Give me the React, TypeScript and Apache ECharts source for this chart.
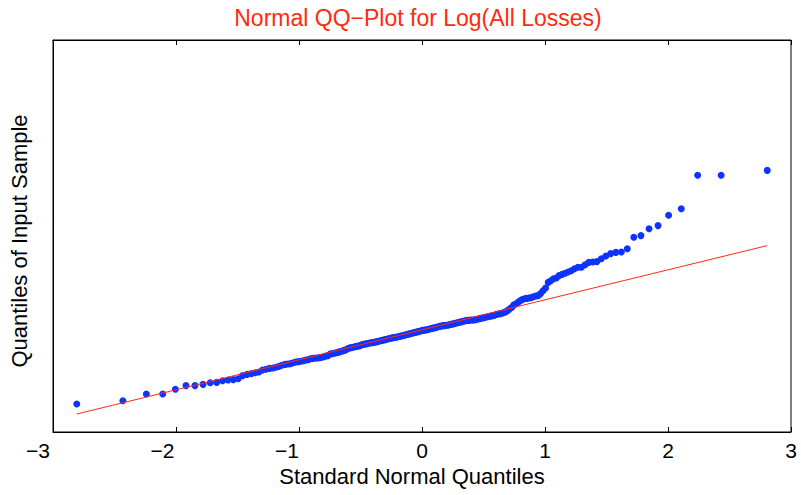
import React, { useEffect, useRef } from "react";
import * as echarts from "echarts";

// Standard normal quantiles (x) for the 200 sorted observations
const normalQuantiles: number[] = [
  -2.807, -2.432, -2.241, -2.108, -2.005, -1.919, -1.846, -1.780, -1.722, -1.669,
  -1.621, -1.576, -1.534, -1.495, -1.458, -1.422, -1.388, -1.356, -1.326, -1.296,
  -1.268, -1.240, -1.213, -1.188, -1.163, -1.139, -1.114, -1.092, -1.069, -1.047,
  -1.026, -1.005, -0.984, -0.964, -0.944, -0.925, -0.906, -0.887, -0.868, -0.850,
  -0.833, -0.815, -0.798, -0.780, -0.764, -0.747, -0.731, -0.714, -0.698, -0.683,
  -0.667, -0.651, -0.636, -0.620, -0.605, -0.590, -0.576, -0.561, -0.546, -0.532,
  -0.517, -0.503, -0.489, -0.475, -0.461, -0.447, -0.433, -0.419, -0.406, -0.392,
  -0.379, -0.365, -0.352, -0.338, -0.325, -0.312, -0.299, -0.286, -0.273, -0.260,
  -0.247, -0.234, -0.221, -0.208, -0.195, -0.182, -0.170, -0.157, -0.144, -0.132,
  -0.119, -0.107, -0.094, -0.082, -0.069, -0.056, -0.044, -0.031, -0.019, -0.006,
  0.006, 0.019, 0.031, 0.044, 0.056, 0.069, 0.082, 0.094, 0.107, 0.119,
  0.132, 0.144, 0.157, 0.170, 0.182, 0.195, 0.208, 0.221, 0.234, 0.247,
  0.260, 0.273, 0.286, 0.299, 0.312, 0.325, 0.338, 0.352, 0.365, 0.379,
  0.392, 0.406, 0.419, 0.433, 0.447, 0.461, 0.475, 0.489, 0.503, 0.517,
  0.532, 0.546, 0.561, 0.576, 0.590, 0.605, 0.620, 0.636, 0.651, 0.667,
  0.683, 0.698, 0.714, 0.731, 0.747, 0.764, 0.780, 0.798, 0.815, 0.833,
  0.850, 0.868, 0.887, 0.906, 0.925, 0.944, 0.964, 0.984, 1.005, 1.026,
  1.047, 1.069, 1.092, 1.114, 1.139, 1.163, 1.188, 1.213, 1.240, 1.268,
  1.296, 1.326, 1.356, 1.388, 1.422, 1.458, 1.495, 1.534, 1.576, 1.621,
  1.669, 1.722, 1.780, 1.846, 1.919, 2.005, 2.108, 2.241, 2.432, 2.807,
];

// Sorted sample values, log(loss) (arbitrary offset; the axis is unlabelled)
const sampleQuantiles: number[] = [
  0.70, 0.78, 0.95, 0.95, 1.07, 1.16, 1.16, 1.19, 1.23, 1.24,
  1.28, 1.30, 1.31, 1.33, 1.41, 1.44, 1.46, 1.48, 1.50, 1.55,
  1.57, 1.59, 1.60, 1.62, 1.64, 1.67, 1.69, 1.70, 1.71, 1.73,
  1.75, 1.76, 1.77, 1.78, 1.80, 1.81, 1.83, 1.84, 1.85, 1.85,
  1.86, 1.87, 1.88, 1.90, 1.91, 1.95, 1.96, 1.97, 1.98, 1.99,
  2.01, 2.02, 2.04, 2.05, 2.08, 2.10, 2.11, 2.12, 2.13, 2.14,
  2.15, 2.16, 2.18, 2.19, 2.20, 2.21, 2.22, 2.23, 2.23, 2.24,
  2.25, 2.26, 2.27, 2.28, 2.29, 2.30, 2.31, 2.32, 2.33, 2.34,
  2.35, 2.36, 2.37, 2.37, 2.38, 2.39, 2.40, 2.41, 2.42, 2.43,
  2.44, 2.45, 2.46, 2.47, 2.48, 2.49, 2.50, 2.51, 2.52, 2.53,
  2.54, 2.55, 2.55, 2.56, 2.57, 2.58, 2.59, 2.60, 2.61, 2.62,
  2.63, 2.64, 2.65, 2.66, 2.66, 2.67, 2.67, 2.68, 2.69, 2.70,
  2.71, 2.72, 2.73, 2.74, 2.75, 2.76, 2.77, 2.78, 2.79, 2.79,
  2.80, 2.80, 2.80, 2.81, 2.82, 2.83, 2.84, 2.85, 2.86, 2.87,
  2.88, 2.89, 2.90, 2.91, 2.92, 2.94, 2.95, 2.96, 2.97, 2.99,
  3.01, 3.04, 3.08, 3.12, 3.18, 3.20, 3.24, 3.28, 3.31, 3.33,
  3.34, 3.35, 3.36, 3.38, 3.40, 3.41, 3.46, 3.53, 3.60, 3.74,
  3.78, 3.83, 3.85, 3.91, 3.94, 3.97, 4.00, 4.03, 4.08, 4.12,
  4.12, 4.18, 4.24, 4.25, 4.26, 4.33, 4.40, 4.46, 4.49, 4.50,
  4.58, 4.87, 4.91, 5.08, 5.16, 5.42, 5.58, 6.42, 6.42, 6.54,
];

// Reference line endpoints (through quartiles, extended to the data range)
const refLineX: number[] = [-2.807, 2.807];
const refLineY: number[] = [0.45, 4.66];

const xTicks: number[] = [-3, -2, -1, 0, 1, 2, 3];

const TITLE = "Normal QQ\u2212Plot for Log(All Losses)";
const X_NAME = "Standard Normal Quantiles";
const Y_NAME = "Quantiles of Input Sample";

const FONT = "'Liberation Sans', Arial, Helvetica, sans-serif";
const BLUE = "#0f33ff";
const RED = "#ff2a10";

// Non-negative tick labels are centred on the tick; negative ones hang their
// minus sign left of the digit, so they come from a copy of the axis 6px to the left.
const fmtNonNeg = (v: number) => (v >= 0 ? String(v) : "");
const fmtNeg = (v: number) => (v < 0 ? "\u2212" + Math.abs(v) : "");

export default function App() {
  const ref = useRef<HTMLDivElement>(null);

  useEffect(() => {
    if (!ref.current) return;
    const chart = echarts.init(ref.current, undefined, { renderer: "svg" });
    const points = normalQuantiles.map((x, i) => [x, sampleQuantiles[i]]);
    const line = refLineX.map((x, i) => [x, refLineY[i]]);
    const tickText = { color: "#000", fontFamily: FONT, fontSize: 21 };
    const xBase = {
      type: "value",
      min: xTicks[0],
      max: xTicks[xTicks.length - 1],
      interval: 1,
      splitLine: { show: false },
    };
    chart.setOption({
      animation: false,
      backgroundColor: "#ffffff",
      title: {
        text: TITLE,
        left: 413,
        textAlign: "center",
        top: 1,
        textStyle: { color: RED, fontFamily: FONT, fontSize: 23, fontWeight: "normal" },
      },
      grid: [
        {
          left: 44,
          right: 10,
          top: 40,
          bottom: 63,
          show: true,
          borderColor: "#000",
          borderWidth: 1,
          backgroundColor: "transparent",
        },
        { left: 38, right: 16, top: 40, bottom: 63, show: false },
      ],
      xAxis: [
        {
          ...xBase,
          gridIndex: 0,
          position: "bottom",
          name: X_NAME,
          nameLocation: "middle",
          nameGap: 27,
          nameTextStyle: {
            color: "#000",
            fontFamily: FONT,
            fontSize: 22,
            padding: [0, 20, 0, 0],
          },
          axisLine: { show: true, onZero: false, lineStyle: { color: "#000", width: 1 } },
          axisTick: { show: true, inside: true, length: 5, lineStyle: { color: "#000" } },
          axisLabel: { ...tickText, margin: 8, formatter: fmtNonNeg },
        },
        {
          ...xBase,
          gridIndex: 0,
          position: "top",
          axisLine: { show: true, onZero: false, lineStyle: { color: "#000", width: 1 } },
          axisTick: { show: true, inside: true, length: 5, lineStyle: { color: "#000" } },
          axisLabel: { show: false },
        },
        {
          ...xBase,
          gridIndex: 1,
          position: "bottom",
          axisLine: { show: false, onZero: false },
          axisTick: { show: false },
          axisLabel: { ...tickText, margin: 8, formatter: fmtNeg },
        },
      ],
      yAxis: [
        {
          type: "value",
          gridIndex: 0,
          min: 0,
          max: 9.8,
          position: "left",
          name: Y_NAME,
          nameLocation: "middle",
          nameGap: 23,
          nameTextStyle: {
            color: "#000",
            fontFamily: FONT,
            fontSize: 22,
            padding: [0, 10, 0, 0],
          },
          axisLine: { show: true, onZero: false, lineStyle: { color: "#000", width: 1 } },
          axisTick: { show: false },
          axisLabel: { show: false },
          splitLine: { show: false },
        },
        {
          type: "value",
          gridIndex: 1,
          min: 0,
          max: 9.8,
          show: false,
        },
      ],
      series: [
        {
          type: "scatter",
          xAxisIndex: 0,
          yAxisIndex: 0,
          data: points,
          symbol: "circle",
          symbolSize: 7,
          itemStyle: { color: BLUE, opacity: 1 },
          z: 2,
        },
        {
          type: "line",
          xAxisIndex: 0,
          yAxisIndex: 0,
          data: line,
          symbol: "none",
          lineStyle: { color: RED, width: 1 },
          z: 3,
        },
      ],
    });
    return () => chart.dispose();
  }, []);

  return (
    <div
      ref={ref}
      style={{ position: "absolute", left: 0, top: 0, width: 801, height: 495 }}
    />
  );
}
